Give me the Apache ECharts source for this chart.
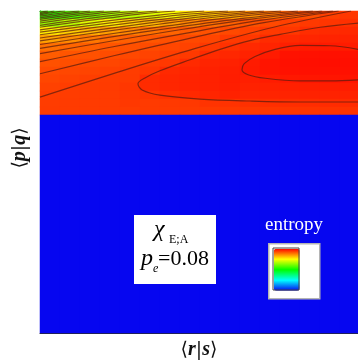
<!DOCTYPE html>
<html><head><meta charset="utf-8">
<script src="https://cdn.jsdelivr.net/npm/echarts@6/dist/echarts.min.js"></script>
<style>html,body{margin:0;padding:0;background:#fff}#c{width:358px;height:361px}</style>
</head><body><div id="c"></div>
<script>
// column / row categories of the entropy field
const xCells = ['1','2','3','4','5','6','7','8','9','10','11','12','13','14','15','16'];
const yCellsTop = ['1','2','3','4','5','6','7','8','9','10','11','12','13'];
const yCellsBottom = ['1'];

// entropy field, upper band (rows top -> bottom)
const topField = [
  [53.5,57.0,61.0,64.5,68.0,71.5,74.5,77.5,80.2,82.9,85.5,88.0,90.4,92.3,93.8,94.6],
  [64.5,68.0,72.0,76.0,79.2,81.7,84.3,86.6,88.9,90.5,91.9,92.8,93.7,94.4,94.8,95.3],
  [76.8,79.6,82.0,84.4,86.6,88.6,90.1,91.2,92.1,92.8,93.5,94.4,94.6,95.6,95.9,96.1],
  [84.0,86.2,88.1,89.6,90.6,91.5,92.2,92.8,93.2,94.3,94.6,95.8,96.0,96.4,96.6,96.7],
  [89.0,90.0,90.8,91.7,92.2,92.6,93.1,93.5,94.4,95.2,96.0,96.5,97.0,97.4,97.5,97.3],
  [91.0,91.7,92.1,92.5,92.9,93.4,93.9,94.4,95.8,96.2,96.7,97.4,98.2,98.3,98.4,98.3],
  [92.1,92.4,92.8,93.1,93.6,94.0,94.5,95.9,96.5,96.8,97.4,98.0,98.4,98.5,98.6,98.5],
  [92.7,93.0,93.3,93.7,94.1,94.6,96.0,96.4,96.8,97.1,97.5,98.0,98.3,98.4,98.4,98.4],
  [93.1,93.5,93.9,94.1,94.2,95.8,96.3,96.6,96.8,97.2,97.0,97.3,97.6,97.8,97.9,98.0],
  [93.6,94.0,94.1,94.2,94.6,95.8,96.3,96.6,96.8,97.1,96.7,96.8,96.9,97.0,97.1,97.2],
  [94.0,94.1,94.2,94.2,94.6,94.8,95.5,96.0,96.4,96.8,96.4,96.5,96.6,96.7,96.7,96.7],
  [94.1,94.2,94.2,94.2,94.5,94.3,94.4,94.5,95.0,95.1,95.3,95.5,95.6,95.7,95.8,95.8],
  [94.2,94.2,94.2,94.2,94.2,94.3,94.3,94.3,94.4,94.5,94.6,94.7,94.8,94.9,95.0,95.0]
];
// lower band (uniform minimum)
const bottomField = [
  [0,0,0,0,0,0,0,0,0,0,0,0,0,0,0,0]
];

// contour lines (x: 0..100 along <r|s>, y: 0..100 along <p|q>)
const contourLines = [
  [[0,73.5],[24.5,81.2],[48.9,88.5],[73.4,95.0],[97.8,100]],
  [[0,80.7],[23.5,86.3],[47.0,91.6],[70.4,96.4],[93.9,100]],
  [[0,84.4],[23.0,89.0],[46.1,93.2],[69.1,97.1],[92.1,100]],
  [[0,86.9],[22.2,90.7],[44.4,94.3],[66.5,97.5],[88.7,100]],
  [[0,88.5],[21.5,91.9],[42.9,95.0],[64.4,97.8],[85.8,100]],
  [[0,89.7],[20.3,92.7],[40.6,95.5],[60.8,98.1],[81.1,100]],
  [[0,90.8],[19.0,93.5],[37.9,96.0],[56.9,98.3],[75.8,100]],
  [[0,91.7],[17.6,94.1],[35.2,96.4],[52.8,98.4],[70.4,100]],
  [[0,92.7],[16.1,94.8],[32.3,96.8],[48.4,98.6],[64.5,100]],
  [[0,93.5],[14.8,95.4],[29.6,97.2],[44.3,98.8],[59.1,100]],
  [[0,94.2],[12.9,95.9],[25.8,97.5],[38.7,98.9],[51.6,100]],
  [[0,95.0],[10.6,96.5],[21.3,97.8],[31.9,99.1],[42.5,100]],
  [[0,95.6],[9.2,96.9],[18.4,98.1],[27.6,99.2],[36.8,100]],
  [[0,96.3],[7.7,97.4],[15.4,98.4],[23.1,99.3],[30.8,100]],
  [[0,96.9],[6.3,97.8],[12.6,98.7],[18.9,99.4],[25.2,100]],
  [[0,97.4],[5.0,98.2],[10.1,98.9],[15.1,99.5],[20.1,100]],
  [[0,97.9],[3.9,98.5],[7.9,99.1],[11.8,99.6],[15.7,100]],
  [[0,98.4],[3.1,98.9],[6.2,99.3],[9.2,99.7],[12.3,100]],
  [[0,98.8],[2.0,99.2],[4.0,99.5],[5.9,99.8],[7.9,100]],
  [[0,99.2],[1.5,99.5],[3.0,99.7],[4.5,100]],
  [[0,99.6],[1.2,99.8],[2.5,100]]
];
const outerContour = [[100,96.3],[88.1,95.0],[75.5,92.8],[66.0,90.9],[56.6,88.2],[47.2,85.0],[37.7,81.6],[33.0,79.4],[30.8,77.6],[32.1,75.7],[37.7,74.1],[50.3,72.9],[66.0,72.3],[81.8,72.0],[100,72.0]];
const innerContour = [[100,88.2],[91.2,89.3],[81.8,89.4],[73.9,88.2],[67.6,86.0],[64.2,83.8],[63.5,81.9],[65.4,80.4],[70.8,79.3],[81.8,78.5],[91.2,78.5],[100,78.8]];

const colorScale = ['#0606f0','#00ffff','#00ff00','#ffff00','#ff0000'];
const valueRange = [0, 100];
const legendTitle = 'entropy';

const topData = [];
topField.forEach((row, r) => row.forEach((v, c) => topData.push([c, r, v])));
const bottomData = [];
bottomField.forEach((row, r) => row.forEach((v, c) => bottomData.push([c, r, v])));

const contourStyle = {color: 'rgba(90,28,14,0.72)', width: 1.2};
const lineSeries = contourLines.concat([outerContour, innerContour]).map(pts => ({
  type: 'line', xAxisIndex: 1, yAxisIndex: 1, data: pts, showSymbol: false,
  smooth: 0.35, lineStyle: contourStyle, silent: true, z: 5, animation: false
}));

const serif = '"Liberation Serif", "DejaVu Serif", serif';
const hidden = {axisTick:{show:false}, axisLabel:{show:false}, splitLine:{show:false}};
const border = {show:true, lineStyle:{color:'#2a2a2a', width:1}};

const chart = echarts.init(document.getElementById('c'));
chart.setOption({
  animation: false,
  backgroundColor: '#fff',
  grid: [
    {left: 40, width: 320, top: 11, height: 104, outerBoundsMode: 'none'},
    {left: 40, width: 320, top: 115, height: 218, outerBoundsMode: 'none'}
  ],
  xAxis: [
    Object.assign({type:'category', gridIndex:0, data:xCells, position:'top', axisLine:border}, hidden),
    {type:'value', gridIndex:0, min:0, max:100.6, show:false},
    Object.assign({type:'category', gridIndex:1, data:xCells, position:'bottom', axisLine:border,
      name:'{a|⟨}{b|r}{a||}{b|s}{a|⟩}', nameLocation:'middle', nameGap:7,
      nameTextStyle:{padding:[0,2,0,0], rich:{
        a:{fontFamily:'"DejaVu Serif", serif', fontSize:19, color:'#111'},
        b:{fontFamily:serif, fontStyle:'italic', fontWeight:'bold', fontSize:20, color:'#111'}
      }}}, hidden)
  ],
  yAxis: [
    Object.assign({type:'category', gridIndex:0, data:yCellsTop, inverse:true, axisLine:border}, hidden),
    {type:'value', gridIndex:0, min:68, max:100, show:false},
    Object.assign({type:'category', gridIndex:1, data:yCellsBottom, axisLine:border}, hidden)
  ],
  visualMap: {
    type:'continuous', min:valueRange[0], max:valueRange[1], seriesIndex:[0,1],
    inRange:{color:colorScale}, calculable:false, orient:'vertical',
    left:268, top:243, itemWidth:26, itemHeight:42,
    padding:[5,20,8,5], backgroundColor:'#ffffff', borderColor:'#b4b4b4', borderWidth:1.5,
    hoverLink:false
  },
  series: [
    {type:'heatmap', xAxisIndex:0, yAxisIndex:0, data:topData, silent:true, progressive:0},
    {type:'heatmap', xAxisIndex:2, yAxisIndex:2, data:bottomData, silent:true, progressive:0}
  ].concat(lineSeries),
  graphic: [
    {type:'rect', shape:{x:134, y:215, width:82, height:69}, style:{fill:'#fff'}, z:100},
    {type:'text', x:154, y:230, z:101, style:{text:'χ', font:'italic 24px ' + serif, fill:'#000', align:'left', verticalAlign:'middle'}},
    {type:'text', x:169, y:240, z:101, style:{text:'E;A', font:'12px ' + serif, fill:'#000', align:'left', verticalAlign:'middle'}},
    {type:'text', x:141, y:259, z:101, style:{text:'p', font:'italic 24px ' + serif, fill:'#000', align:'left', verticalAlign:'middle'}},
    {type:'text', x:153, y:269, z:101, style:{text:'e', font:'italic 12px ' + serif, fill:'#000', align:'left', verticalAlign:'middle'}},
    {type:'text', x:158, y:259.5, z:101, style:{text:'=0.08', font:'22px ' + serif, fill:'#000', align:'left', verticalAlign:'middle'}},
    {type:'text', x:294, y:225.5, z:101, style:{text:legendTitle, font:'19px ' + serif, fill:'#fff', align:'center', verticalAlign:'middle'}},
    {type:'rect', shape:{x:273, y:248, width:26, height:42}, style:{fill:null, stroke:'#444', lineWidth:1}, z:101},
    {type:'text', x:20, y:148, rotation:Math.PI/2, z:101, style:{
      text:'{a|⟨}{b|p}{a||}{b|q}{a|⟩}', align:'center', verticalAlign:'middle',
      rich:{
        a:{fontFamily:'"DejaVu Serif", serif', fontSize:19, fill:'#111'},
        b:{fontFamily:serif, fontStyle:'italic', fontWeight:'bold', fontSize:20, fill:'#111'}
      }}}
  ]
});
</script></body></html>
